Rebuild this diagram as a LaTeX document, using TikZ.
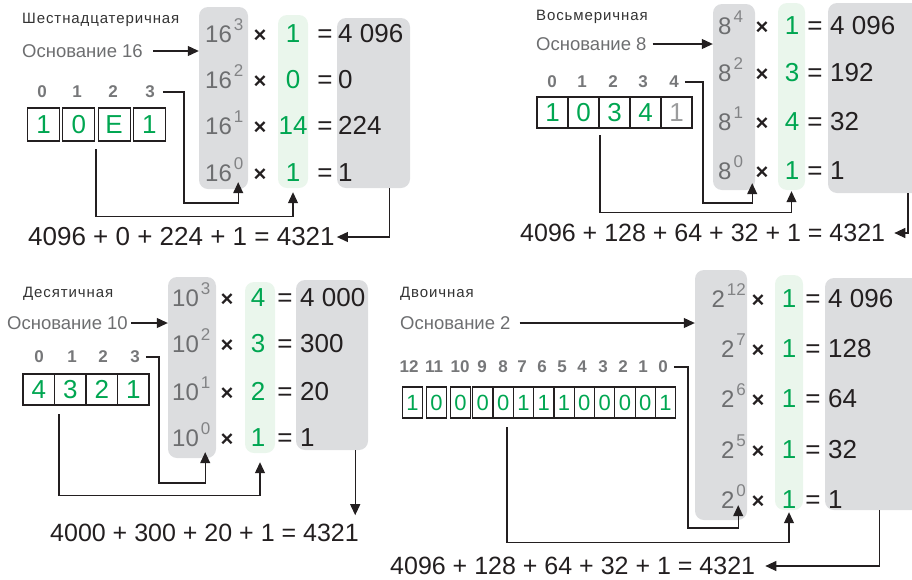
\documentclass[tikz,border=0pt]{standalone}
\usepackage{fontspec}
\setmainfont{Liberation Sans}
\newfontfamily\headfont[LetterSpace=6]{Liberation Sans}
\usetikzlibrary{arrows.meta,positioning}
\definecolor{boxgray}{RGB}{220,221,223}
\definecolor{boxgreen}{RGB}{234,246,236}
\definecolor{digitgreen}{RGB}{0,166,81}
\definecolor{textgray}{RGB}{109,110,112}
\definecolor{expgray}{RGB}{130,131,133}
\definecolor{idxgray}{RGB}{118,119,121}
\definecolor{headgray}{RGB}{51,51,51}
\definecolor{inkblack}{RGB}{35,31,32}
\newcommand\pw[2]{#1\hspace{2pt}\raisebox{12pt}{\fontsize{17}{17}\selectfont\color{expgray}#2}}

\begin{document}
\begin{tikzpicture}[x=1pt,y=-1pt,
  colbox/.style={rounded corners=9pt,inner sep=0pt},
  pwrbox/.style={colbox,fill=boxgray},
  mulbox/.style={colbox,fill=boxgreen},
  big/.style={font=\fontsize{26}{30}\selectfont,inner sep=0pt},
  pwr/.style={font=\fontsize{24}{28}\selectfont,text=textgray,inner sep=0pt,anchor=base west},
  times/.style={font=\fontsize{22}{26}\selectfont\bfseries,text=inkblack,inner sep=0pt,anchor=base},
  mul/.style={big,text=digitgreen,anchor=base},
  eq/.style={big,text=inkblack,anchor=base},
  res/.style={big,text=inkblack,anchor=base west},
  sum/.style={font=\fontsize{25}{29}\selectfont,inner sep=0pt,text=inkblack,anchor=west},
  head/.style={font=\headfont\fontsize{15}{17}\selectfont,text=headgray,anchor=west,inner sep=0pt},
  baselbl/.style={font=\fontsize{18.5}{22}\selectfont,text=textgray,anchor=west,inner sep=0pt},
  idx/.style={font=\fontsize{17}{19}\selectfont\bfseries,text=idxgray,inner sep=0pt},
  cell/.style={draw=inkblack,line width=1.2pt,inner sep=0pt,font=\fontsize{26}{30}\selectfont,text=digitgreen},
  link/.style={draw=inkblack,line width=1.1pt},
  arr/.style={link,-{Triangle[length=11pt,width=10pt]}}]
  \useasboundingbox (0,0) rectangle (912,579);
  \clip (0,0) rectangle (912,579);

  % hexadecimal
  \node[pwrbox,minimum width=49,minimum height=182] (p16) at (223.5,98) {};
  \node[mulbox,minimum width=30,minimum height=173] (m16) at (293,101.5) {};
  \node[pwrbox,minimum width=73,minimum height=170] (r16) at (373.5,103) {};
  \foreach \e/\m/\r/\y in {3/1/{4 096}/42,2/0/0/88,1/14/224/134,0/1/1/181}{
    \node[pwr] (h\e-p) at (205,\y) {\pw{16}{\e}};
    \node[times] (h\e-x) at (260,\y) {×};
    \node[mul] (h\e-m) at (293,\y) {\m};
    \node[eq] (h\e-q) at (325,\y) {=};
    \node[res] (h\e-r) at (338,\y) {\r};
  }
  \node[head] (head16) at (22,20) {Шестнадцатеричная};
  \node[baselbl] (b16) at (22,51) {Основание 16};
  \draw[arr] ([xshift=10pt]b16.east) -- (b16.east -| p16.west);
  \foreach \i/\x in {0/42,1/77,2/113,3/150}
    \node[idx] (i16-\i) at (\x,92) {\i};
  \foreach \d [count=\i from 0] in {1,0,E,1}
    \node[cell,minimum width=32,minimum height=33] (c16-\i) at ({43.5+35.3*\i},124.5) {\d};
  \coordinate (t16) at (184,203);
  \coordinate (s16) at (96,149);
  \node[sum,font=\fontsize{26}{30}\selectfont] (sum16) at (28,237) {4096 + 0 + 224 + 1 = 4321};
  \draw[arr] ([xshift=8pt]i16-3.east) -| (t16) -| ([xshift=-10pt,yshift=7pt]p16.south east);
  \draw[arr] (s16) |- ([yshift=-28pt]m16.south) -- ([yshift=-4pt]m16.south);
  \draw[arr] ([xshift=-21pt]r16.south east) |- ([xshift=2pt]sum16.east);

  % octal
  \node[pwrbox,minimum width=42,minimum height=186] (p8) at (734,97) {};
  \node[mulbox,minimum width=27,minimum height=187] (m8) at (791.5,96.5) {};
  \node[pwrbox,minimum width=102,minimum height=190] (r8) at (879,98) {};
  \foreach \e/\m/\r/\y in {4/1/{4 096}/34,2/3/192/81,1/4/32/130,0/1/1/179}{
    \node[pwr] (o\e-p) at (718,\y) {\pw{8}{\e}};
    \node[times] (o\e-x) at (762,\y) {×};
    \node[mul] (o\e-m) at (792,\y) {\m};
    \node[eq] (o\e-q) at (815,\y) {=};
    \node[res] (o\e-r) at (830,\y) {\r};
  }
  \node[head] (head8) at (536,17) {Восьмеричная};
  \node[baselbl] (b8) at (536,44) {Основание 8};
  \draw[arr] ([xshift=6pt]b8.east) -- (b8.east -| p8.west);
  \foreach \i/\x in {0/552,1/582,2/613,3/643,4/674}
    \node[idx] (i8-\i) at (\x,82) {\i};
  \foreach \d [count=\i from 0] in {1,0,3,4}
    \node[cell,minimum width=31,minimum height=31] (c8-\i) at ({552.5+31*\i},112.5) {\d};
  \node[cell,minimum width=31,minimum height=31,text=expgray!80] (c8-4) at (676.5,112.5) {1};
  \coordinate (t8) at (703,203);
  \coordinate (s8) at (600,135);
  \coordinate (o8) at (908,193);
  \node[sum] (sum8) at (520,233) {4096 + 128 + 64 + 32 + 1 = 4321};
  \draw[arr] ([xshift=6pt]i8-4.east) -| (t8) -| ([xshift=-3pt,yshift=7pt]p8.south east);
  \draw[arr] (s8) |- ([yshift=-22pt]m8.south) -- ([yshift=-1pt]m8.south);
  \draw[arr] (o8) |- ([xshift=9pt]sum8.east);

  % decimal
  \node[pwrbox,minimum width=48,minimum height=181] (p10) at (192,367.5) {};
  \node[mulbox,minimum width=30,minimum height=171] (m10) at (260,367.5) {};
  \node[pwrbox,minimum width=72,minimum height=170] (r10) at (332,365) {};
  \foreach \e/\m/\r/\y in {3/4/{4 000}/306,2/3/300/352,1/2/20/400,0/1/1/446}{
    \node[pwr] (d\e-p) at (172,\y) {\pw{10}{\e}};
    \node[times] (d\e-x) at (227,\y) {×};
    \node[mul] (d\e-m) at (258,\y) {\m};
    \node[eq] (d\e-q) at (285,\y) {=};
    \node[res] (d\e-r) at (300,\y) {\r};
  }
  \node[head] (head10) at (23,294) {Десятичная};
  \node[baselbl] (b10) at (7,323) {Основание 10};
  \draw[arr] ([xshift=3pt]b10.east) -- (b10.east -| p10.west);
  \foreach \i/\x in {0/39,1/72,2/103,3/135}
    \node[idx] (i10-\i) at (\x,357) {\i};
  \foreach \d [count=\i from 0] in {4,3,2,1}
    \node[cell,minimum width=31.5,minimum height=31] (c10-\i) at ({38.75+31.5*\i},389.5) {\d};
  \coordinate (t10) at (159,483);
  \coordinate (s10) at (59,414);
  \node[sum] (sum10) at (50,533) {4000 + 300 + 20 + 1 = 4321};
  \draw[arr] ([xshift=6pt]i10-3.east) -| (t10) -| ([xshift=-11pt,yshift=6pt]p10.south east);
  \draw[arr] (s10) |- ([yshift=-42pt]m10.south) -- ([yshift=-9pt]m10.south);
  \draw[arr] ([xshift=-13pt]r10.south east) -- ([xshift=-13pt,yshift=-65pt]r10.south east);

  % binary
  \node[pwrbox,minimum width=52,minimum height=250] (p2) at (721,395) {};
  \node[mulbox,minimum width=28,minimum height=235] (m2) at (789,392.5) {};
  \node[pwrbox,minimum width=105,minimum height=232] (r2) at (877.5,394) {};
  \foreach \e/\r/\y in {12/{4 096}/307,7/128/357,6/64/407,5/32/458,0/1/508}{
    \node[pwr,anchor=base east] (b\e-p) at (746,\y) {\pw{2}{\e}};
    \node[times] (b\e-x) at (758,\y) {×};
    \node[mul] (b\e-m) at (789,\y) {1};
    \node[eq] (b\e-q) at (813,\y) {=};
    \node[res] (b\e-r) at (828,\y) {\r};
  }
  \node[head] (head2) at (400,294) {Двоичная};
  \node[baselbl] (b2) at (400,323) {Основание 2};
  \draw[arr] ([xshift=9pt]b2.east) -- (b2.east -| p2.west);
  \foreach \i/\x in {12/409,11/434,10/460,9/482,8/503,7/522,6/542,5/562,4/582,3/603,2/623,1/643,0/663}
    \node[idx] (i2-\i) at (\x,367) {\i};
  \foreach \d [count=\i from 0] in {1,0,0}
    \node[cell,minimum width=20.5,minimum height=31,font=\fontsize{22}{26}\selectfont] (c2-\i) at ({412.5+24*\i},402.5) {\d};
  \foreach \d [count=\i from 3] in {0,0,1,1,1,0,0,0,0,1}
    \node[cell,minimum width=20.3,minimum height=31,font=\fontsize{22}{26}\selectfont] (c2-\i) at ({482.85+20.3*(\i-3)},402.5) {\d};
  \coordinate (t2) at (688,528);
  \coordinate (s2) at (507,427);
  \node[sum] (sum2) at (390,566) {4096 + 128 + 64 + 32 + 1 = 4321};
  \draw[arr] ([xshift=6pt]i2-0.east) -| (t2) -| ([xshift=-9pt,yshift=15pt]p2.south east);
  \draw[arr] (s2) |- ([yshift=-32pt]m2.south) -- ([yshift=-2pt]m2.south);
  \draw[arr] ([xshift=-51pt]r2.south east) |- ([xshift=10pt]sum2.east);
\end{tikzpicture}
\end{document}
